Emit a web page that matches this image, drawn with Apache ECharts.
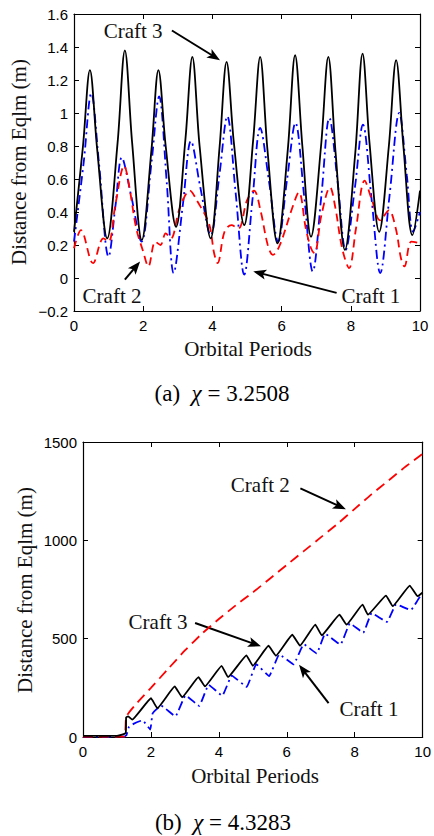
<!DOCTYPE html>
<html>
<head>
<meta charset="utf-8">
<title>Distance from Eqlm</title>
<script src="https://cdn.jsdelivr.net/npm/echarts@6/dist/echarts.min.js"></script>
<style>
  html, body { margin: 0; padding: 0; background: #fff; }
  #chart { width: 434px; height: 836px; }
</style>
</head>
<body>
<div id="chart"></div>
<script>
// (a) chi = 3.2508 : [orbital periods, distance (m)]
const topCraft1 = [[0.00,0.22],[0.28,0.70],[0.50,1.12],[0.72,0.70],[1.00,0.13],[1.20,0.44],[1.38,0.73],[1.65,0.50],[1.95,0.22],[2.24,0.70],[2.46,1.10],[2.68,0.58],[2.88,0.03],[3.15,0.45],[3.38,0.83],[3.65,0.55],[3.95,0.26],[4.20,0.62],[4.43,0.98],[4.67,0.52],[4.92,0.02],[5.16,0.48],[5.38,0.91],[5.64,0.58],[5.90,0.22],[6.16,0.60],[6.40,0.94],[6.65,0.50],[6.90,0.04],[7.15,0.50],[7.38,0.97],[7.62,0.58],[7.85,0.17],[8.12,0.55],[8.35,0.93],[8.60,0.48],[8.85,0.03],[9.12,0.50],[9.40,1.00],[9.62,0.62],[9.80,0.28],[10.0,0.40]];
const topCraft2 = [[0.00,0.18],[0.20,0.29],[0.55,0.09],[0.85,0.24],[1.00,0.22],[1.20,0.45],[1.45,0.68],[1.60,0.55],[1.80,0.30],[2.00,0.16],[2.15,0.07],[2.35,0.22],[2.50,0.20],[2.65,0.27],[2.80,0.24],[3.05,0.42],[3.35,0.53],[3.55,0.47],[3.90,0.33],[4.05,0.15],[4.15,0.09],[4.35,0.28],[4.55,0.32],[4.75,0.30],[5.00,0.47],[5.20,0.53],[5.40,0.40],[5.60,0.20],[5.75,0.14],[5.95,0.20],[6.30,0.42],[6.50,0.52],[6.70,0.30],[6.85,0.18],[6.95,0.15],[7.15,0.38],[7.40,0.55],[7.55,0.43],[7.75,0.18],[7.95,0.06],[8.15,0.30],[8.40,0.59],[8.60,0.48],[8.85,0.35],[9.10,0.41],[9.30,0.30],[9.45,0.12],[9.55,0.07],[9.75,0.22],[10.0,0.21]];
const topCraft3 = [[0.00,0.28],[0.26,0.80],[0.46,1.26],[0.67,0.78],[0.96,0.24],[1.26,0.82],[1.47,1.38],[1.68,0.82],[1.96,0.23],[2.24,0.78],[2.44,1.26],[2.65,0.80],[2.95,0.31],[3.22,0.84],[3.42,1.34],[3.63,0.80],[3.95,0.24],[4.21,0.80],[4.41,1.31],[4.62,0.82],[4.92,0.32],[5.18,0.84],[5.38,1.34],[5.59,0.78],[5.88,0.21],[6.18,0.78],[6.39,1.35],[6.60,0.80],[6.85,0.25],[7.14,0.80],[7.35,1.34],[7.56,0.76],[7.83,0.17],[8.13,0.76],[8.34,1.36],[8.54,0.82],[8.82,0.28],[9.10,0.80],[9.31,1.32],[9.52,0.80],[9.78,0.26],[10.0,0.53]];

// (b) chi = 4.3283
const botCraft1 = [[0,2],[1.22,2],[1.28,10],[1.35,50],[1.50,68],[1.75,85],[1.98,38],[2.05,120],[2.30,160],[2.72,105],[3.02,212],[3.42,158],[3.70,265],[4.10,210],[4.38,312],[4.82,255],[5.10,370],[5.48,310],[5.78,420],[6.20,370],[6.50,472],[6.88,425],[7.13,525],[7.58,470],[7.86,578],[8.25,530],[8.50,630],[8.95,585],[9.22,675],[9.65,645],[9.95,718],[10.0,712]];
const botCraft2 = [[0,2],[1.22,2],[1.25,45],[1.28,105],[1.60,175],[2.00,250],[2.50,345],[3.00,440],[3.50,525],[4.00,600],[4.50,670],[5.00,735],[5.50,805],[6.00,875],[6.50,945],[7.00,1015],[7.50,1085],[8.00,1160],[8.50,1235],[9.00,1305],[9.50,1375],[10.0,1440]];
const botCraft3 = [[0,6],[1.00,6],[1.15,12],[1.26,22],[1.27,100],[1.33,105],[1.45,88],[2.00,197],[2.19,146],[2.70,257],[2.92,202],[3.40,304],[3.59,257],[4.08,362],[4.27,304],[4.81,415],[5.00,362],[5.46,464],[5.68,413],[6.16,520],[6.39,464],[6.84,571],[7.03,517],[7.55,622],[7.76,571],[8.23,673],[8.39,622],[8.92,719],[9.12,665],[9.62,770],[9.85,716],[10.0,735]];

// annotation anchors (data coords): label centre, arrow start, arrow tip
const topNotes = [
  { text: 'Craft 3', at: [1.71, 1.50], from: [2.83, 1.50], to: [4.22, 1.32] },
  { text: 'Craft 2', at: [1.10, -0.11], from: [1.47, -0.01], to: [1.91, 0.10] },
  { text: 'Craft 1', at: [8.58, -0.11], from: [7.59, -0.09], to: [5.18, 0.04] }
];
const botNotes = [
  { text: 'Craft 2', at: [5.22, 1283], from: [6.40, 1264], to: [7.74, 1158] },
  { text: 'Craft 3', at: [2.21, 584], from: [3.30, 580], to: [5.24, 461] },
  { text: 'Craft 1', at: [8.42, 143], from: [7.23, 172], to: [6.36, 367] }
];

const serif = '"Liberation Serif", "DejaVu Serif", serif';
const sans = '"Liberation Sans", Arial, sans-serif';

let myChart = echarts.init(document.getElementById('chart'), null, { renderer: 'svg' });

function minus(v) {
  let s = String(Math.round(v * 10) / 10);
  return s.replace('-', '\u2212');
}

function xAx(gi, pos, labels) {
  return {
    type: 'value', gridIndex: gi, position: pos, min: 0, max: 10, interval: 2,
    axisLine: { show: true, onZero: false, lineStyle: { color: '#000', width: 1.2 } },
    axisTick: { show: true, inside: true, length: 5, lineStyle: { color: '#000', width: 1 } },
    axisLabel: { show: labels, margin: 7, color: '#000', fontFamily: sans, fontSize: 15 },
    splitLine: { show: false }
  };
}
function yAx(gi, pos, labels, min, max, step) {
  return {
    type: 'value', gridIndex: gi, position: pos, min: min, max: max, interval: step,
    axisLine: { show: true, onZero: false, lineStyle: { color: '#000', width: 1.2 } },
    axisTick: { show: true, inside: true, length: 5, lineStyle: { color: '#000', width: 1 } },
    axisLabel: { show: labels, margin: 6, color: '#000', fontFamily: sans, fontSize: 15, formatter: minus },
    splitLine: { show: false }
  };
}
function craft(name, data, gi, color, dash, smooth) {
  return {
    name: name, type: 'line', data: data, xAxisIndex: gi * 2, yAxisIndex: gi * 2,
    symbol: 'none', smooth: smooth, animation: false, silent: true,
    lineStyle: { color: color, width: 1.8, type: dash }
  };
}

let option = {
  animation: false,
  grid: [
    { left: 74, top: 14, width: 346, height: 297 },
    { left: 83, top: 442, width: 344, height: 295 }
  ],
  xAxis: [xAx(0, 'bottom', true), xAx(0, 'top', false), xAx(1, 'bottom', true), xAx(1, 'top', false)],
  yAxis: [
    yAx(0, 'left', true, -0.2, 1.6, 0.2), yAx(0, 'right', false, -0.2, 1.6, 0.2),
    yAx(1, 'left', true, 0, 1500, 500), yAx(1, 'right', false, 0, 1500, 500)
  ],
  series: [
    craft('Craft 1', topCraft1, 0, '#0000ff', [9, 4, 2, 4], 0.35),
    craft('Craft 2', topCraft2, 0, '#ff0000', [8, 5], 0.35),
    craft('Craft 3', topCraft3, 0, '#000000', 'solid', 0.35),
    craft('Craft 1', botCraft1, 1, '#0000ff', [9, 4, 2, 4], 0.1),
    craft('Craft 2', botCraft2, 1, '#ff0000', [10, 6], 0.2),
    craft('Craft 3', botCraft3, 1, '#000000', 'solid', 0.1)
  ]
};
myChart.setOption(option);

// labels + arrows, placed through the grid scales
function notes(list, gi) {
  let out = [];
  list.forEach(n => {
    let t = myChart.convertToPixel({ gridIndex: gi }, n.at);
    let a = myChart.convertToPixel({ gridIndex: gi }, n.from);
    let b = myChart.convertToPixel({ gridIndex: gi }, n.to);
    out.push({ type: 'text', x: t[0], y: t[1], silent: true,
      style: { text: n.text, font: '21px ' + serif, fill: '#111', align: 'center', verticalAlign: 'middle', textAlign: 'center', textVerticalAlign: 'middle' } });
    let dx = b[0] - a[0], dy = b[1] - a[1], L = Math.hypot(dx, dy), ux = dx / L, uy = dy / L;
    let hl = 13, hw = 5;
    let bx = b[0] - ux * hl, by = b[1] - uy * hl;
    out.push({ type: 'line', silent: true, shape: { x1: a[0], y1: a[1], x2: b[0] - ux * 8, y2: b[1] - uy * 8 },
      style: { stroke: '#000', lineWidth: 2 } });
    out.push({ type: 'polygon', silent: true,
      shape: { points: [[b[0], b[1]], [bx - uy * hw, by + ux * hw], [b[0] - ux * 10, b[1] - uy * 10], [bx + uy * hw, by - ux * hw]] },
      style: { fill: '#000' } });
  });
  return out;
}

function label(x, y, text, size, rot) {
  return { type: 'text', x: x, y: y, rotation: rot || 0, silent: true,
    style: { text: text, font: size + 'px ' + serif, fill: '#111', align: 'center', verticalAlign: 'middle', textAlign: 'center', textVerticalAlign: 'middle' } };
}
function caption(x, y, tag, val) {
  return { type: 'text', x: x, y: y, silent: true,
    style: {
      text: '{n|(' + tag + ')  }{c|\u03c7}{n| = ' + val + '}',
      align: 'center', verticalAlign: 'middle', textAlign: 'center', textVerticalAlign: 'middle',
      rich: {
        n: { fontFamily: serif, fontSize: 23, color: '#111' },
        c: { fontFamily: serif, fontSize: 23, fontStyle: 'italic', color: '#111' }
      }
    } };
}

let graphics = [].concat(
  notes(topNotes, 0),
  notes(botNotes, 1),
  [
    label(19, 162, 'Distance from Eqlm (m)', 21, Math.PI / 2),
    label(25, 590, 'Distance from Eqlm (m)', 21, Math.PI / 2),
    label(248, 349, 'Orbital Periods', 21),
    label(255, 776, 'Orbital Periods', 21),
    caption(222, 393, 'a', '3.2508'),
    caption(223, 822, 'b', '4.3283')
  ]
);
myChart.setOption({ graphic: graphics });
</script>
</body>
</html>
